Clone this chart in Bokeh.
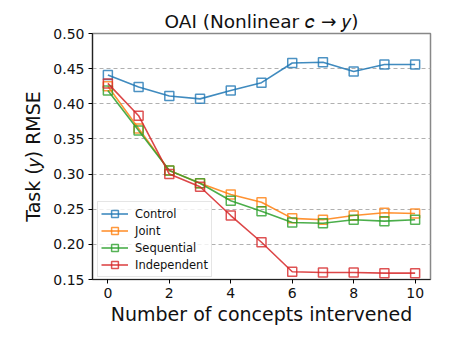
from bokeh.plotting import figure
from bokeh.embed import file_html
from bokeh.resources import INLINE
from bokeh.models import Range1d, FixedTicker, Legend, PrintfTickFormatter

concepts = [0, 1, 2, 3, 4, 5, 6, 7, 8, 9, 10]
control = [0.441, 0.424, 0.411, 0.407, 0.419, 0.430, 0.458, 0.459, 0.446, 0.456, 0.456]
joint = [0.425, 0.365, 0.305, 0.287, 0.271, 0.260, 0.237, 0.235, 0.241, 0.245, 0.244]
sequential = [0.419, 0.362, 0.305, 0.287, 0.262, 0.247, 0.231, 0.230, 0.235, 0.233, 0.235]
independent = [0.429, 0.383, 0.300, 0.282, 0.241, 0.203, 0.161, 0.160, 0.160, 0.159, 0.159]
x_ticks = [0, 2, 4, 6, 8, 10]
y_ticks = [0.15, 0.20, 0.25, 0.30, 0.35, 0.40, 0.45, 0.50]

FONT = "DejaVu Sans"

p = figure(frame_width=338, frame_height=246, output_backend="svg", toolbar_location=None,
           x_range=Range1d(-0.5, 10.5), y_range=Range1d(0.15, 0.50),
           min_border_left=92, min_border_right=16, min_border_top=33, min_border_bottom=43)

p.title.text = "OAI (Nonlinear \U0001D450 \u2192 \U0001D466)"
p.title.text_font = FONT
p.title.text_font_size = "18.5px"
p.title.text_font_style = "normal"
p.title.align = "center"
p.title.text_color = "#111111"
p.title.standoff = 4

p.xaxis.ticker = FixedTicker(ticks=x_ticks)
p.yaxis.ticker = FixedTicker(ticks=y_ticks)
p.yaxis.formatter = PrintfTickFormatter(format="%.2f")
p.xaxis.axis_label = "Number of concepts intervened"
p.yaxis.axis_label = "Task (\U0001D466) RMSE"
for ax in (p.xaxis, p.yaxis):
    ax.axis_label_text_font = FONT
    ax.axis_label_text_font_size = "19px"
    ax.axis_label_text_font_style = "normal"
    ax.axis_label_text_color = "#111111"
    ax.major_label_text_font = FONT
    ax.major_label_text_font_size = "14px"
    ax.major_label_text_color = "#111111"
    ax.minor_tick_line_color = None
    ax.major_tick_out = 4
    ax.major_tick_in = 0
    ax.axis_line_color = "#222222"
    ax.axis_line_width = 1.2
    ax.major_label_standoff = 4
p.xaxis.axis_label_standoff = 2
p.yaxis.axis_label_standoff = 6

p.xgrid.grid_line_color = None
p.ygrid.grid_line_color = "#b0b0b0"
p.ygrid.grid_line_dash = "4 3"
p.ygrid.grid_line_width = 1
p.outline_line_color = "#888888"
p.outline_line_width = 1.5

series = [("Control", control, "#1f77b4"), ("Joint", joint, "#ff7f0e"),
          ("Sequential", sequential, "#2ca02c"), ("Independent", independent, "#d62728")]
items = []
for name, ys, col in series:
    r1 = p.line(concepts, ys, line_color=col, line_width=1.6, line_alpha=0.85)
    r2 = p.scatter(concepts, ys, marker="square", size=9, line_color=col, line_width=1.5,
                   line_alpha=0.8, fill_color="white", fill_alpha=0)
    items.append((name, [r1, r2]))

legend = Legend(items=items, location=(5, 2))
legend.label_text_font = FONT
legend.label_text_font_size = "11.5px"
legend.label_text_color = "#111111"
legend.border_line_color = "#cccccc"
legend.border_line_width = 1
legend.background_fill_alpha = 0.8
legend.spacing = 0
legend.padding = 3
legend.margin = 0
legend.glyph_width = 27
legend.label_standoff = 7
legend.label_height = 17
legend.glyph_height = 17
p.add_layout(legend)

open("out.html", "w").write(file_html(p, INLINE))
